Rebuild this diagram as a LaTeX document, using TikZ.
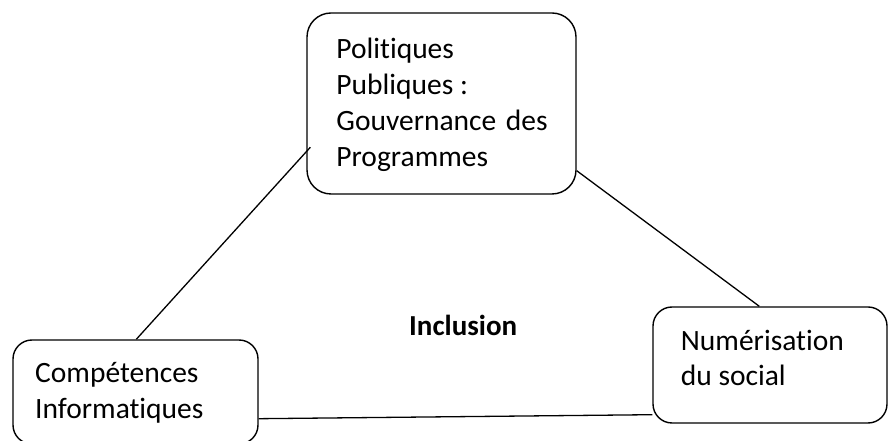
\documentclass[tikz,border=0pt]{standalone}
\usepackage{fontspec}
\setmainfont{Carlito}[Ligatures={NoCommon}]
\usetikzlibrary{calc}

\begin{document}
\begin{tikzpicture}[x=1pt,y=1pt,
  box/.style={draw,line width=1.4pt,inner sep=0pt},
  txt/.style={inner sep=0pt,anchor=base west,align=flush left,text width=250pt,font=\fontsize{29.5}{36}\selectfont},
  link/.style={line width=1.3pt}]
\useasboundingbox (0,0) rectangle (888,441);

% les trois cadres
\node[box,rounded corners=24pt,minimum width=269pt,minimum height=181pt] (pol) at (441.5,337.5) {};
\node[box,rounded corners=19pt,minimum width=245pt,minimum height=104pt] (comp) at (135.5,49) {};
\node[box,rounded corners=19pt,minimum width=234pt,minimum height=116pt] (num) at (770,76) {};

\node[txt] (polT) at (336.2,382.7) {Politiques\\Publiques :\\Gouvernance\hspace{0.1em} des\\Programmes};
\node[txt] (compT) at (35,58) {Compétences\\Informatiques};
\node[txt,font=\fontsize{29.5}{34.5}\selectfont] (numT) at (680.7,90.3) {Numérisation\\du social};
\node[inner sep=0pt,anchor=base west,font=\fontsize{29}{36}\selectfont\bfseries] (incl) at (409,105) {Inclusion};

% liaisons
\draw[link] ([xshift=124pt]comp.north west) -- ([shift={(4pt,-135pt)}]pol.north west);
\draw[link] ([yshift=24pt]pol.south east) -- ([xshift=107pt]num.north west);
\draw[link] ([yshift=26pt]comp.south east) -- ([yshift=9pt]num.south west);

\end{tikzpicture}
\end{document}
